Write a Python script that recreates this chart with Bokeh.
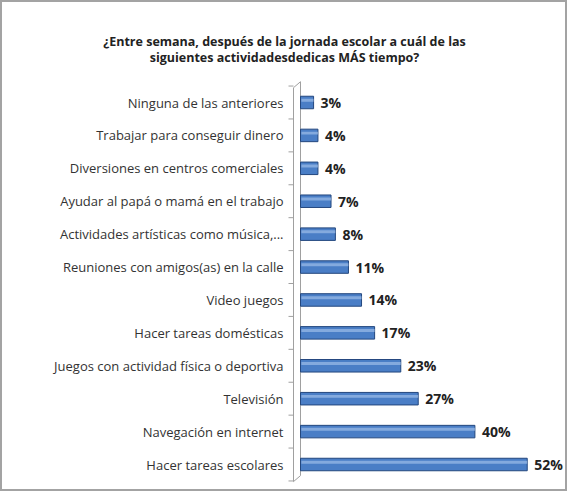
from bokeh.plotting import figure
from bokeh.models import ColumnDataSource, Label
from bokeh.core.properties import value
from bokeh.transform import dodge
from bokeh.embed import file_html
from bokeh.resources import INLINE

categories = [
    "Hacer tareas escolares",
    "Navegación en internet",
    "Televisión",
    "Juegos con actividad física o deportiva",
    "Hacer tareas domésticas",
    "Video juegos",
    "Reuniones con amigos(as) en la calle",
    "Actividades artísticas como música,...",
    "Ayudar al papá o mamá en el trabajo",
    "Diversiones en centros comerciales",
    "Trabajar para conseguir dinero",
    "Ninguna de las anteriores",
]
values = [52, 40, 27, 23, 17, 14, 11, 8, 7, 4, 4, 3]
title_lines = [
    "¿Entre semana, después de la jornada escolar a cuál de las",
    "siguientes actividadesdedicas MÁS tiempo?",
]

ys = list(range(len(categories)))
n = len(categories)
src = ColumnDataSource(dict(y=ys, values=values, labels=[f"{v}%" for v in values],
                            cats=categories))

FONT = "Open Sans"
W, H = 567, 491
KX = 4.36     # px per percent
KY = 32.91    # px per category
x0 = -300 / KX
x1 = x0 + W / KX
y1 = (n - 1) + 102 / KY
y0 = y1 - H / KY
axis_x = -7 / KX
ax_bot = -0.52
ax_top = n - 1 + 0.45

p = figure(width=W, height=H, x_range=(x0, x1), y_range=(y0, y1),
           output_backend="svg", toolbar_location=None, min_border=0)
p.xaxis.visible = False
p.yaxis.visible = False
p.xgrid.visible = False
p.ygrid.visible = False
p.outline_line_color = "#a3a3a3"
p.outline_line_width = 3

# 3-D style axis wall: front edge, back edge, slanted ends, boundary ticks
bounds = [i - 0.5 for i in range(n + 1)]
p.segment(x0=[axis_x, 0, axis_x, axis_x],
          y0=[ax_bot, ax_bot + 6 / KY, ax_bot, ax_top],
          x1=[axis_x, 0, 0, 0],
          y1=[ax_top, ax_top + 6 / KY, ax_bot + 6 / KY, ax_top + 6 / KY],
          line_color="#a0a0a0", line_width=1)
p.segment(x0=[axis_x - 5 / KX] * len(bounds), y0=bounds, x1=[axis_x] * len(bounds), y1=bounds,
          line_color="#a0a0a0", line_width=1)

# category labels
p.text(x=axis_x, y="y", text="cats", source=src, x_offset=-10,
       text_baseline="middle", text_align="right", text_font=value(FONT),
       text_font_size="13px", text_color="#333333")

# bars
p.hbar(y="y", left=0, right="values", height=0.38, source=src,
       fill_color="#4A7EC6", line_color="#23477E", line_width=1)
p.hbar(y=dodge("y", 0.07, range=p.y_range), left=0.2, right="values", height=0.09, source=src,
       fill_color="#9DBDE8", fill_alpha=0.7, line_color=None)

# value labels
p.text(x="values", y="y", text="labels", source=src, x_offset=7,
       text_baseline="middle", text_align="left", text_font=value(FONT),
       text_font_style="bold", text_font_size="14px", text_color="#222222")

# title
tx = x0 + 284 / KX
for t, py in zip(title_lines, [41, 57]):
    p.add_layout(Label(x=tx, y=y1 - py / KY, text=t,
                       text_align="center", text_baseline="middle", text_font=FONT,
                       text_font_style="bold", text_font_size="12.5px", text_color="#222222"))

open("out.html", "w").write(file_html(p, INLINE))
